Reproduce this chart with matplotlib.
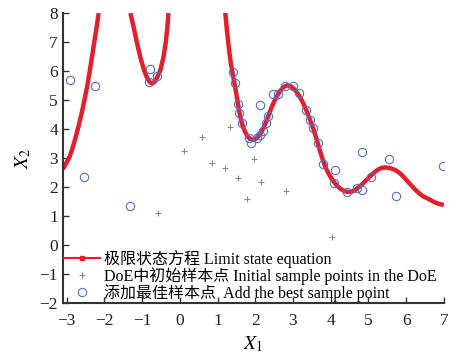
import numpy as np
import matplotlib
matplotlib.use("Agg")
import matplotlib.pyplot as plt
from matplotlib.lines import Line2D

plt.rcParams['font.family'] = ['Liberation Serif', 'Noto Sans CJK SC']
plt.rcParams['mathtext.fontset'] = 'stix'

# ---------------- data ----------------
# limit state curve, three branches
left_x = [-3.10, -3.04, -2.98, -2.92, -2.84, -2.76, -2.68, -2.60, -2.52, -2.45,
          -2.38, -2.32, -2.26, -2.20, -2.15]
left_y = [2.62, 2.76, 2.90, 3.05, 3.35, 3.72, 4.12, 4.55, 5.05, 5.50,
          6.05, 6.55, 7.05, 7.55, 8.00]

mid_x = [-1.31, -1.22, -1.14, -1.04, -0.94, -0.86, -0.79, -0.73, -0.67, -0.60,
         -0.51, -0.43, -0.37, -0.33, -0.30]
mid_y = [8.00, 7.50, 7.00, 6.45, 6.00, 5.75, 5.61, 5.57, 5.62, 5.78,
         6.05, 6.50, 7.00, 7.50, 8.00]

right_x = [1.20, 1.25, 1.30, 1.35, 1.40, 1.45, 1.50, 1.55, 1.60, 1.66, 1.72, 1.80,
           1.88, 1.96, 2.04, 2.12, 2.20, 2.28, 2.36, 2.45, 2.55, 2.65, 2.75, 2.85,
           2.95, 3.05, 3.15, 3.25, 3.35, 3.45, 3.55, 3.65, 3.75, 3.85, 3.95, 4.05,
           4.15, 4.25, 4.35, 4.45, 4.55, 4.65, 4.75, 4.85, 4.95, 5.05, 5.15, 5.25,
           5.35, 5.45, 5.55, 5.65, 5.75, 5.85, 5.95, 6.05, 6.15, 6.25, 6.35, 6.45,
           6.55, 6.65, 6.75, 6.85, 7.00]
right_y = [8.10, 7.40, 6.80, 6.30, 5.93, 5.57, 5.20, 4.82, 4.44, 4.14, 3.93, 3.74,
           3.65, 3.63, 3.69, 3.81, 3.99, 4.22, 4.50, 4.80, 5.08, 5.30, 5.45, 5.51,
           5.47, 5.36, 5.18, 4.95, 4.66, 4.33, 3.97, 3.55, 3.10, 2.72, 2.45, 2.24,
           2.07, 1.95, 1.87, 1.83, 1.84, 1.90, 2.00, 2.12, 2.25, 2.38, 2.50, 2.60,
           2.66, 2.68, 2.66, 2.62, 2.56, 2.46, 2.33, 2.18, 2.04, 1.90, 1.78, 1.68,
           1.62, 1.55, 1.48, 1.43, 1.38]

# DoE initial sample points
doe_x = [1.33, 0.58, 0.11, 0.85, 1.19, 1.96, 1.54, 2.15, 2.81, 1.78, -0.58, 4.03]
doe_y = [4.07, 3.72, 3.24, 2.83, 2.66, 2.97, 2.31, 2.17, 1.86, 1.59, 1.10, 0.28]

# added best sample points
add_x = [-2.92, -2.25, -2.55, -0.80, -0.82, -0.61, -1.33,
         1.40, 1.46, 1.54, 1.57, 1.64, 1.83, 1.88, 2.04, 2.12, 2.20, 2.28, 2.35,
         2.12, 2.47, 2.60, 2.79, 3.00, 3.16, 3.34, 3.45, 3.53, 3.66, 3.79, 4.11,
         4.83, 5.54, 6.98, 4.09, 4.42, 4.69, 4.83, 5.07, 5.73]
add_y = [5.69, 5.48, 2.34, 6.07, 5.62, 5.83, 1.34,
         5.97, 5.59, 4.86, 4.55, 4.21, 3.69, 3.52, 3.69, 3.79, 3.93, 4.21, 4.45,
         4.83, 5.20, 5.20, 5.48, 5.48, 5.24, 4.66, 4.31, 4.03, 3.52, 2.79, 2.60,
         3.21, 2.97, 2.74, 2.14, 1.83, 1.97, 1.90, 2.34, 1.69]

red = '#e31f2b'
blue = '#5070c8'
grey = '#8a8a8a'

fig = plt.figure(figsize=(4.52, 3.63), dpi=100)
ax = fig.add_axes([0.139, 0.165, 0.843, 0.799])

for bx, by in [(left_x, left_y), (mid_x, mid_y), (right_x, right_y)]:
    ax.plot(bx, by, color=red, lw=3.2, solid_capstyle='butt',
            solid_joinstyle='round', zorder=2)
ax.plot(doe_x, doe_y, '+', color=grey, ms=4, mew=0.8, zorder=3)
ax.plot(add_x, add_y, 'o', mfc='none', mec=blue, ms=6, mew=0.8, zorder=4)

ax.set_xlim(-3.1, 7)
ax.set_ylim(-2, 8)
ax.set_xticks(np.arange(-3, 8, 1))
ax.set_yticks(np.arange(-2, 9, 1))
ax.spines['top'].set_visible(False)
ax.spines['right'].set_visible(False)
for s in ['left', 'bottom']:
    ax.spines[s].set_color('#333333')
    ax.spines[s].set_linewidth(1.5)
ax.tick_params(direction='in', length=4, width=1, colors='#333333',
               labelcolor='#222222', labelsize=12.5)
ax.tick_params(axis='x', pad=7)
ax.set_xlabel('$X_1$', fontsize=14, labelpad=4)
ax.set_ylabel('$X_2$', fontsize=14, labelpad=5)

handles = [
    Line2D([], [], color=red, lw=1.5, marker='s', ms=2.5),
    Line2D([], [], color=grey, ls='none', marker='+', ms=4, mew=0.8),
    Line2D([], [], color=blue, ls='none', marker='o', mfc='none', ms=6, mew=0.8),
]
labels = ['极限状态方程 Limit state equation',
          'DoE中初始样本点 Initial sample points in the DoE',
          '添加最佳样本点  Add the best sample point']
ax.legend(handles, labels, loc='lower left', bbox_to_anchor=(0.0, 0.0),
          frameon=False, fontsize=11.5, labelspacing=-0.05, handlelength=2.2,
          handletextpad=0.3, borderpad=0.1, borderaxespad=0.0, numpoints=1)

fig.savefig('out.png', dpi=100)
